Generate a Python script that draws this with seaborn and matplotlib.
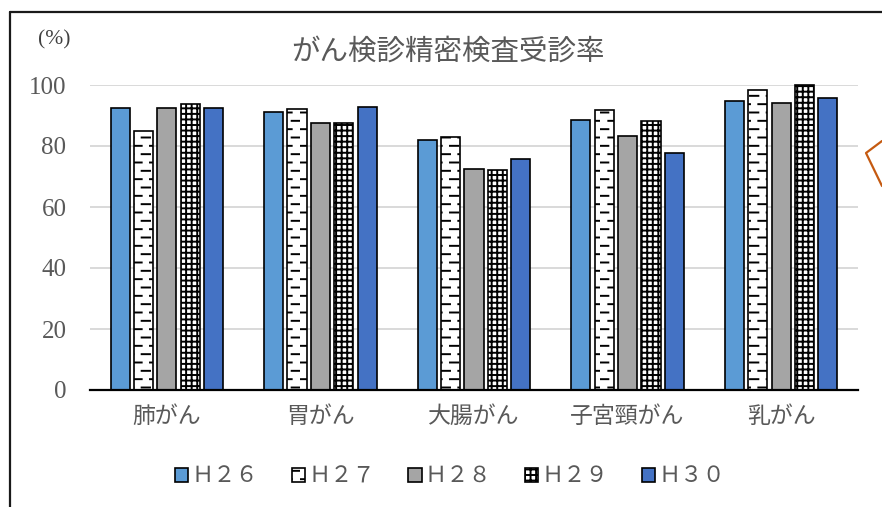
#!/usr/bin/env python3
"""
がん検診精密検査受診率 - grouped bar chart by cancer site and fiscal year.
"""

import warnings
import numpy as np
import pandas as pd
import matplotlib
matplotlib.use("Agg")
import matplotlib.pyplot as plt
import matplotlib.hatch as mhatch
from matplotlib.lines import Line2D
import seaborn as sns

# Data
SITES = ["肺がん", "胃がん", "大腸がん", "子宮頸がん", "乳がん"]
YEARS = ["Ｈ２６", "Ｈ２７", "Ｈ２８", "Ｈ２９", "Ｈ３０"]
H26 = [92.5, 91.0, 82.1, 88.5, 94.8]
H27 = [84.9, 92.0, 82.8, 91.8, 98.5]
H28 = [92.5, 87.4, 72.6, 83.4, 94.0]
H29 = [93.8, 87.6, 72.2, 88.3, 100.0]
H30 = [92.5, 92.8, 75.7, 77.7, 95.6]

TITLE = "がん検診精密検査受診率"
UNIT = "(%)"

# Styling
PALETTE = {
    "Ｈ２６": "#5B9BD5",
    "Ｈ２７": "#FFFFFF",
    "Ｈ２８": "#A5A5A5",
    "Ｈ２９": "#FFFFFF",
    "Ｈ３０": "#4472C4",
}
HATCHES = {"Ｈ２７": "__", "Ｈ２９": "+++"}
TEXT_GRAY = "#595959"


class StaggeredDash(mhatch.HatchPatternBase):
    """Short horizontal dashes, alternating left/right (Excel 'dashed horizontal')."""

    def __init__(self, hatch, density):
        self.rows = hatch.count("_") * density
        self.cols = density
        self.num_vertices = self.rows * self.cols * 2

    def set_vertices_and_codes(self, vertices, codes):
        k = 0
        for i in range(self.rows):
            y = (i + 0.5) / self.rows
            shift = (i % 2) * 0.5 / self.cols
            for j in range(self.cols):
                x0 = j / self.cols + shift
                vertices[k] = (x0, y)
                vertices[k + 1] = (x0 + 0.5 / self.cols, y)
                codes[k] = mhatch.Path.MOVETO
                codes[k + 1] = mhatch.Path.LINETO
                k += 2


mhatch._hatch_types.append(StaggeredDash)


def build_frame():
    cols = {"Ｈ２６": H26, "Ｈ２７": H27, "Ｈ２８": H28, "Ｈ２９": H29, "Ｈ３０": H30}
    df = pd.DataFrame(cols, index=SITES)
    df.index.name = "site"
    return df.reset_index().melt(id_vars="site", var_name="year", value_name="rate")


def main():
    df = build_frame()

    sns.set_theme(style="white")
    plt.rcParams["font.family"] = ["Noto Sans CJK JP", "DejaVu Sans"]
    plt.rcParams["hatch.linewidth"] = 1.4
    plt.rcParams["hatch.color"] = "black"

    fig = plt.figure(figsize=(8.82, 5.07), dpi=100)
    ax = fig.add_axes([90 / 882, 117 / 507, 768 / 882, 305 / 507])

    sns.barplot(
        data=df, x="site", y="rate", hue="year",
        order=SITES, hue_order=YEARS, palette=PALETTE,
        width=0.76, gap=0.18, saturation=1,
        edgecolor="black", linewidth=1.2, legend=False, ax=ax,
    )

    with warnings.catch_warnings():
        warnings.simplefilter("ignore")
        for year, cont in zip(YEARS, ax.containers):
            for bar in cont.patches:
                bar.set_clip_on(False)
                if year in HATCHES:
                    bar.set_hatch(HATCHES[year])

    ax.set_ylim(0, 100)
    ax.set_yticks(np.arange(0, 101, 20))
    ax.yaxis.grid(True, color="#D9D9D9", linewidth=1.4)
    ax.set_axisbelow(True)
    for side in ["left", "right", "top"]:
        ax.spines[side].set_visible(False)
    ax.spines["bottom"].set_color("black")
    ax.spines["bottom"].set_linewidth(1.6)
    ax.spines["bottom"].set_zorder(5)
    ax.set_xlabel("")
    ax.set_ylabel("")
    ax.tick_params(axis="both", length=0)
    ax.tick_params(axis="y", pad=17, labelsize=18, labelcolor=TEXT_GRAY)
    ax.tick_params(axis="x", pad=11, labelsize=16.5, labelcolor=TEXT_GRAY)
    for lab in ax.get_yticklabels():
        lab.set_family("Liberation Serif")

    fig.text(448 / 882, 1 - 52 / 507, TITLE, ha="center", va="center",
             fontsize=20.5, color=TEXT_GRAY)
    fig.text(54 / 882, 1 - 40 / 507, UNIT, ha="center", va="center",
             fontsize=15.5, color="#404040", family=["Liberation Serif", "Noto Sans CJK JP"])

    with warnings.catch_warnings():
        warnings.simplefilter("ignore")
        leg = fig.legend(
            ax.containers, YEARS, loc="center", ncol=5,
            bbox_to_anchor=(450 / 882, 1 - 476 / 507), frameon=False,
            handlelength=0.6, handleheight=0.6, handletextpad=0.15,
            columnspacing=1.5, fontsize=16,
        )
    for t in leg.get_texts():
        t.set_color(TEXT_GRAY)

    # chart frame (cropped screenshot: only left and top edges visible)
    fig.add_artist(Line2D([10 / 882, 10 / 882], [0, 1 - 12 / 507],
                          transform=fig.transFigure, color="#1a1a1a", linewidth=1.6))
    fig.add_artist(Line2D([10 / 882, 1], [1 - 12 / 507, 1 - 12 / 507],
                          transform=fig.transFigure, color="#1a1a1a", linewidth=1.6))
    # edge of neighbouring callout shape
    fig.add_artist(Line2D([1, 866 / 882, 1], [1 - 141 / 507, 1 - 153 / 507, 1 - 186 / 507],
                          transform=fig.transFigure, color="#C55A11", linewidth=1.6))

    fig.savefig("out.png", dpi=100)
    plt.close(fig)


if __name__ == "__main__":
    main()
